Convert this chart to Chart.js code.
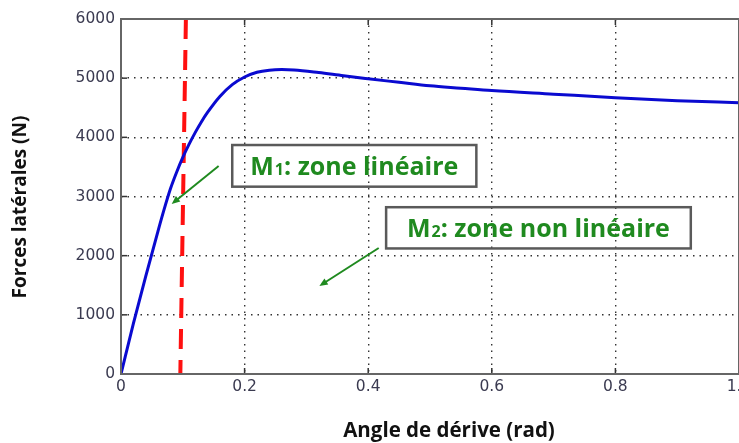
<!DOCTYPE html>
<html>
<head>
<meta charset="utf-8">
<script src="https://cdn.jsdelivr.net/npm/chart.js@4.4.0/dist/chart.umd.min.js"></script>
<style>
  html, body { margin: 0; padding: 0; background: #fff; }
  #wrap { width: 739px; height: 443px; }
</style>
</head>
<body>
<div id="wrap"><canvas id="chartForce"></canvas></div>
<script>
// Data
const angles = [0, 0.02, 0.04, 0.06, 0.07, 0.08, 0.09, 0.10, 0.11, 0.12, 0.13, 0.14, 0.16, 0.18, 0.20, 0.22, 0.24, 0.26, 0.28, 0.32, 0.36, 0.40, 0.45, 0.50, 0.55, 0.60, 0.70, 0.80, 0.90, 1.00];
const forces = [0, 850, 1650, 2420, 2790, 3130, 3410, 3660, 3880, 4080, 4260, 4420, 4690, 4890, 5020, 5100, 5135, 5145, 5140, 5095, 5040, 4990, 4930, 4870, 4830, 4790, 4730, 4670, 4620, 4585];
const limiteX = [0.105, 0.096];
const limiteY = [6000, 0];
const xTicks = [0, 0.2, 0.4, 0.6, 0.8, 1];
const yTicks = [0, 1000, 2000, 3000, 4000, 5000, 6000];

// Annotations (coordonnees en unites des axes)
const boites = [
  { m: "M", ind: "1", txt: ": zone lin\u00e9aire", x1: 0.180, x2: 0.575, y1: 3870, y2: 3166 },
  { m: "M", ind: "2", txt: ": zone non lin\u00e9aire", x1: 0.429, x2: 0.922, y1: 2819, y2: 2122 }
];
const fleches = [
  { x1: 0.158, y1: 3515, x2: 0.082, y2: 2874 },
  { x1: 0.417, y1: 2130, x2: 0.321, y2: 1487 }
];

let courbe = [];
angles.forEach(function(a, i){
  courbe.push({ x: a, y: forces[i] });
});
let limite = [];
limiteX.forEach(function(a, i){
  limite.push({ x: a, y: limiteY[i] });
});

const vert = "#1f8a1f";
const grand = "bold 25px 'Open Sans'";
const petit = "bold 16px 'Open Sans'";

const decor = {
  id: "decor",
  afterDatasetsDraw(chart) {
    const ctx = chart.ctx;
    const xs = chart.scales.x;
    const ys = chart.scales.y;
    const a = chart.chartArea;
    ctx.save();
    // petites graduations interieures
    ctx.strokeStyle = "#333";
    ctx.lineWidth = 1.5;
    xTicks.forEach(function(v){
      const px = xs.getPixelForValue(v);
      ctx.beginPath();
      ctx.moveTo(px, a.bottom); ctx.lineTo(px, a.bottom - 6);
      ctx.moveTo(px, a.top); ctx.lineTo(px, a.top + 6);
      ctx.stroke();
    });
    yTicks.forEach(function(v){
      const py = ys.getPixelForValue(v);
      ctx.beginPath();
      ctx.moveTo(a.left, py); ctx.lineTo(a.left + 6, py);
      ctx.stroke();
    });
    // cadre
    ctx.strokeStyle = "#666";
    ctx.lineWidth = 2;
    ctx.strokeRect(a.left, a.top, a.right - a.left, a.bottom - a.top);

    // boites
    boites.forEach(function(b){
      const l = xs.getPixelForValue(b.x1), r = xs.getPixelForValue(b.x2);
      const t = ys.getPixelForValue(b.y1), bo = ys.getPixelForValue(b.y2);
      ctx.strokeStyle = "#5a5a5a";
      ctx.lineWidth = 2.5;
      ctx.strokeRect(l, t, r - l, bo - t);
      ctx.fillStyle = vert;
      ctx.textAlign = "left";
      ctx.textBaseline = "alphabetic";
      ctx.font = grand;
      const w1 = ctx.measureText(b.m).width;
      const w3 = ctx.measureText(b.txt).width;
      ctx.font = petit;
      const w2 = ctx.measureText(b.ind).width + 1;
      let x = (l + r) / 2 - (w1 + w2 + w3) / 2;
      const base = (t + bo) / 2 + 9;
      ctx.font = grand;
      ctx.fillText(b.m, x, base);
      ctx.font = petit;
      ctx.fillText(b.ind, x + w1 + 1, base);
      ctx.font = grand;
      ctx.fillText(b.txt, x + w1 + w2, base);
    });

    // fleches
    fleches.forEach(function(f){
      const x1 = xs.getPixelForValue(f.x1), y1 = ys.getPixelForValue(f.y1);
      const x2 = xs.getPixelForValue(f.x2), y2 = ys.getPixelForValue(f.y2);
      const ang = Math.atan2(y2 - y1, x2 - x1);
      ctx.strokeStyle = vert;
      ctx.fillStyle = vert;
      ctx.lineWidth = 2;
      ctx.beginPath();
      ctx.moveTo(x1, y1);
      ctx.lineTo(x2 - 6 * Math.cos(ang), y2 - 6 * Math.sin(ang));
      ctx.stroke();
      ctx.beginPath();
      ctx.moveTo(x2, y2);
      ctx.lineTo(x2 - 9 * Math.cos(ang - 0.4), y2 - 9 * Math.sin(ang - 0.4));
      ctx.lineTo(x2 - 9 * Math.cos(ang + 0.4), y2 - 9 * Math.sin(ang + 0.4));
      ctx.closePath();
      ctx.fill();
    });

    // titres des axes
    ctx.fillStyle = "#111";
    ctx.font = "bold 20.5px 'Open Sans'";
    ctx.textAlign = "center";
    ctx.textBaseline = "middle";
    ctx.fillText("Angle de d\u00e9rive (rad)", 449, 431);
    ctx.translate(21, 207);
    ctx.rotate(-Math.PI / 2);
    ctx.font = "bold 19px 'Open Sans'";
    ctx.fillText("Forces lat\u00e9rales (N)", 0, 0);
    ctx.restore();
  }
};

const grille = { color: "#333", lineWidth: 1.4, borderDash: [1.5, 5], drawTicks: false };
const bordure = { display: false, dash: [1.5, 5] };

const chartForce = document.getElementById("chartForce");
const forceChart = new Chart(chartForce, {
  type: "line",
  data: {
    datasets: [{
      data: courbe,
      borderColor: "#0a0ad0",
      borderWidth: 3,
      pointRadius: 0,
      tension: 0.4,
      cubicInterpolationMode: "monotone"
    }, {
      data: limite,
      borderColor: "#ff1010",
      borderWidth: 4,
      borderDash: [20, 11],
      pointRadius: 0
    }]
  },
  options: {
    responsive: true,
    maintainAspectRatio: false,
    animation: false,
    layout: { padding: { top: 19, right: 0, left: 0, bottom: 0 } },
    plugins: {
      legend: { display: false },
      tooltip: { enabled: false }
    },
    scales: {
      x: {
        type: "linear",
        min: 0,
        max: 1,
        afterBuildTicks: function(scale){ scale.ticks = xTicks.map(v => ({ value: v })); },
        afterFit: function(scale){ scale.height = 69; scale.paddingRight = 0; },
        grid: grille,
        border: bordure,
        ticks: {
          padding: 4,
          color: "#3a3a50",
          font: { family: "DejaVu Sans", size: 15.5 },
          maxRotation: 0
        }
      },
      y: {
        min: 0,
        max: 6000,
        afterBuildTicks: function(scale){ scale.ticks = yTicks.map(v => ({ value: v })); },
        afterFit: function(scale){ scale.width = 121; },
        grid: grille,
        border: bordure,
        ticks: {
          padding: 6,
          color: "#3a3a50",
          font: { family: "DejaVu Sans", size: 15.5 },
          callback: function(v){ return String(v); }
        }
      }
    }
  },
  plugins: [decor]
});
</script>
</body>
</html>
